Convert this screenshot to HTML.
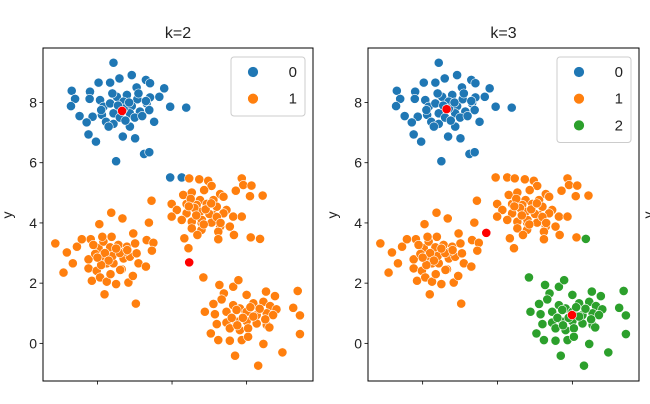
<!DOCTYPE html>
<html><head><meta charset="utf-8">
<style>
html,body{margin:0;padding:0;background:#fff;}
svg{display:block;font-family:"Liberation Sans","DejaVu Sans",sans-serif;}
</style></head>
<body>
<svg id="fig" width="650" height="404" viewBox="0 0 650 404" xmlns="http://www.w3.org/2000/svg"></svg>
<script>
const pointsX = [-1.57,-1.08,-1.97,-1.66,-1.41,-0.70,-0.59,-0.21,-2.69,-2.20,-0.95,-2.60,-2.21,-1.93,-1.48,-1.21,-0.93,-0.59,-0.34,-2.71,-1.84,-1.66,-1.30,-1.08,-0.68,-0.05,0.38,-2.48,-2.13,-1.88,-1.57,-1.13,-0.86,-0.61,-0.48,-2.29,-1.77,-1.57,-1.13,-1.32,-0.99,-2.24,-2.04,-0.75,-0.61,-1.50,-1.3,-1.0,-1.7,-0.9,-1.4,-1.15,-1.45,-0.8,-1.9,-1.25,-0.7,-1.6,
-0.05,0.26,
0.46,0.73,0.97,1.06,0.86,1.29,1.87,1.91,2.13,1.71,2.09,2.43,0.30,0.53,0.75,1.11,1.38,-0.01,0.39,0.66,0.93,1.20,1.46,0.13,0.39,0.75,1.11,1.38,1.64,1.87,-0.01,0.26,0.53,0.79,1.06,1.29,1.55,0.53,0.79,1.24,0.68,1.66,1.24,2.11,0.33,0.44,-0.55,-0.62,0.6,1.0,0.8,0.5,1.2,0.9,0.65,1.05,0.45,1.3,0.85,
2.36,
-3.13,-2.82,-2.55,-2.42,-2.18,-1.95,-1.63,-1.33,-2.66,-2.91,-2.24,-1.97,-1.84,-1.62,-1.44,-1.21,-1.04,-0.99,-0.68,-0.50,-0.54,-2.24,-2.02,-1.88,-1.75,-1.53,-1.30,-1.13,-0.95,-2.15,-1.93,-1.75,-1.50,-1.17,-1.05,-1.35,-0.90,-0.70,-1.81,-0.97,-2.06,-1.66,-1.39,-1.57,-1.87,-2.11,-1.26,-1.6,-1.8,-1.4,-1.7,-1.5,-1.9,-1.2,-1.65,-2.0,
0.84,1.27,1.64,1.78,1.39,2.00,2.52,2.76,3.37,1.11,1.33,1.64,1.82,2.18,2.45,2.63,2.80,0.88,1.15,1.46,1.73,2.00,2.27,2.54,2.71,3.25,3.43,1.20,1.46,1.73,2.00,2.27,2.54,1.55,1.82,2.04,2.61,1.24,1.55,1.87,2.04,2.45,3.43,2.96,1.69,2.31,1.04,2.18,1.9,2.35,1.6,2.1,2.5,1.75];
const pointsY = [9.32,8.91,8.66,8.66,8.80,8.75,8.64,8.47,8.39,8.36,8.50,8.12,8.12,8.08,8.19,8.25,8.11,8.17,8.19,7.88,7.86,7.97,8.03,7.88,7.97,7.86,7.83,7.55,7.53,7.59,7.64,7.64,7.70,7.75,7.36,7.34,7.36,7.29,7.20,6.87,6.81,6.94,6.70,6.29,6.35,6.05,7.8,7.5,7.2,8.3,7.5,8.0,7.9,7.55,7.75,7.4,8.05,8.3,
5.51,5.51,
5.48,5.45,5.40,5.23,5.09,4.96,5.48,5.26,5.24,5.07,4.89,4.91,4.93,5.01,4.76,4.76,4.87,4.63,4.63,4.60,4.63,4.54,4.43,4.43,4.32,4.37,4.26,4.32,4.21,4.21,4.21,4.10,4.04,4.01,4.01,3.88,3.88,3.82,3.77,3.71,3.60,3.60,3.46,3.52,3.49,3.16,4.74,4.01,4.5,4.3,4.1,4.8,4.2,4.45,4.25,4.65,4.55,4.0,3.95,
3.47,
3.32,3.02,3.21,3.46,3.46,3.96,4.34,4.15,2.66,2.35,2.79,3.16,3.38,3.54,3.27,3.21,3.65,3.32,3.43,3.34,3.08,2.49,2.41,2.82,2.66,2.99,2.82,2.88,2.99,2.08,2.19,2.05,1.97,2.02,2.24,2.46,2.66,2.55,1.63,1.32,2.97,3.19,2.44,2.66,3.54,3.27,3.05,2.9,3.0,3.0,2.75,3.15,2.6,3.1,2.3,2.85,
2.19,1.94,1.88,2.10,1.66,1.61,1.72,1.57,1.74,1.31,1.46,1.27,1.16,1.33,1.38,1.24,1.13,1.05,0.97,1.05,1.11,1.05,0.94,1.00,0.94,1.18,0.93,0.64,0.69,0.72,0.74,0.66,0.61,0.50,0.44,0.50,0.53,0.11,0.09,0.11,0.22,-0.02,0.31,-0.30,-0.41,-0.74,0.33,0.89,0.85,1.15,0.85,1.2,0.8,0.6];
const groupSizes = [58,2,59,1,56,54];
const labelsK2Groups = [0,0,1,1,1,1];
const labelsK3Groups = [0,1,1,2,1,2];
const centersK2X = [-1.34,0.46], centersK2Y = [7.72,2.69];
const centersK3X = [-1.36,-0.30,1.99], centersK3Y = [7.78,3.67,0.94];
const yTicks = [0,2,4,6,8];
const xTicks = [-2,0,2];
const palette = ['#1f77b4','#ff7f0e','#2ca02c'];

function expand(groups){const out=[];groups.forEach((g,i)=>{for(let k=0;k<groupSizes[i];k++)out.push(g);});return out;}
const labelsK2 = expand(labelsK2Groups), labelsK3 = expand(labelsK3Groups);

const NS='http://www.w3.org/2000/svg';
const svg=document.getElementById('fig');
function el(tag,attrs,parent){const e=document.createElementNS(NS,tag);for(const k in attrs)e.setAttribute(k,attrs[k]);(parent||svg).appendChild(e);return e;}

function panel(x0,x1,title,labels,cx,cy,nLeg,pname){
  const y0=48,y1=381;
  const xs=v=>x0+(v-(-3.46))/(3.78-(-3.46))*(x1-x0);
  const ys=v=>y1-(v-(-1.25))/(9.81-(-1.25))*(y1-y0);
  const g=el('g',{});
  
  
  const clipId='clip'+pname;
  const cp=el('clipPath',{id:clipId},g);el('rect',{x:x0,y:y0,width:x1-x0,height:y1-y0},cp);
  const pts=el('g',{'clip-path':'url(#'+clipId+')'},g);
  for(let i=0;i<pointsX.length;i++){
    const c=el('circle',{cx:xs(pointsX[i]),cy:ys(pointsY[i]),r:4.6,fill:palette[labels[i]],stroke:'#fff','stroke-width':0.6},pts);
    
    
  }
  for(let i=0;i<cx.length;i++){
    const c=el('circle',{cx:xs(cx[i]),cy:ys(cy[i]),r:4.6,fill:'#ff0000',stroke:'#fff','stroke-width':0.6},pts);
    
    
  }
  const fr=el('rect',{x:x0,y:y0,width:x1-x0,height:y1-y0,fill:'none',stroke:'#000','stroke-width':1},g);
  
  
  yTicks.forEach(t=>{
    el('line',{x1:x0-3.5,x2:x0,y1:ys(t),y2:ys(t),stroke:'#000','stroke-width':0.8},g);
    const tx=el('text',{x:x0-6,y:ys(t)+5,'text-anchor':'end','font-size':14,fill:'#222'},g);
    tx.textContent=t;
    
    
  });
  xTicks.forEach(t=>{el('line',{x1:xs(t),x2:xs(t),y1:y1,y2:y1+3.5,stroke:'#000','stroke-width':0.8},g);});
  const ti=el('text',{x:(x0+x1)/2,y:38,'text-anchor':'middle','font-size':16,fill:'#222'},g);
  ti.textContent=title;
  
  
  const yl=el('text',{x:0,y:0,transform:'translate('+(x0-31)+',215) rotate(-90)','text-anchor':'middle','font-size':14,fill:'#222'},g);
  yl.textContent='y';
  
  
  const lx=x1-82,lw=74,lh=nLeg*26.5+6;
  const lg=el('g',{},g);
  
  
  el('rect',{x:lx,y:57,width:lw,height:lh,rx:3,fill:'#fff','fill-opacity':0.8,stroke:'#ccc','stroke-width':1},lg);
  for(let i=0;i<nLeg;i++){
    const ry=72+i*26.7;
    const e=el('g',{},lg);
    
    
    el('circle',{cx:lx+22,cy:ry,r:5.4,fill:palette[i],stroke:'#fff','stroke-width':0.6},e);
    const t=el('text',{x:lx+66,y:ry+5,'text-anchor':'end','font-size':15,fill:'#222'},e);
    t.textContent=i;
  }
}
panel(43,313,'k=2',labelsK2,centersK2X,centersK2Y,2,'panel-k2');
panel(368,639,'k=3',labelsK3,centersK3X,centersK3Y,3,'panel-k3');
const cut=el('text',{x:0,y:0,transform:'translate(653,215) rotate(-90)','text-anchor':'middle','font-size':14,fill:'#222'});
cut.textContent='y';


</script>
</body></html>
